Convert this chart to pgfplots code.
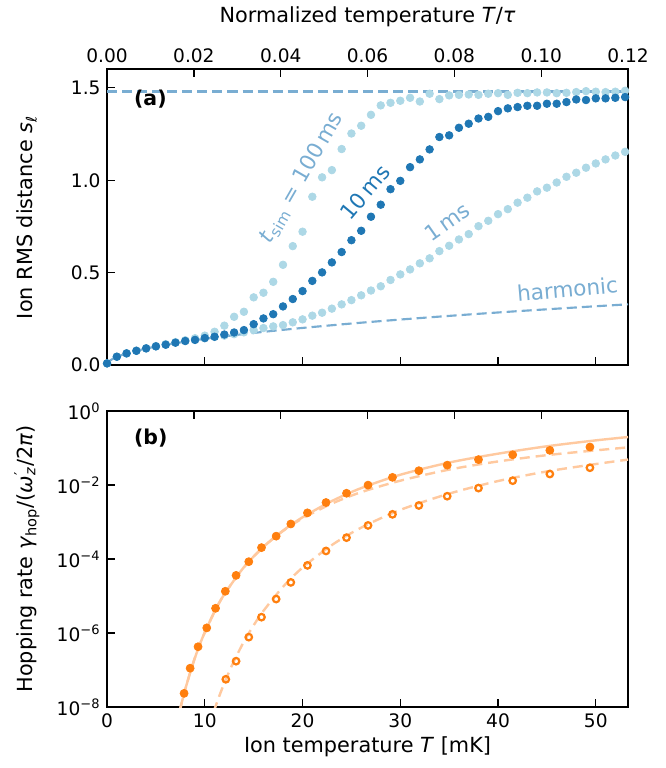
\documentclass[border=0pt]{standalone}
\usepackage{fontspec}
\setmainfont{DejaVu Sans}
\usepackage{pgfplots}
\usepackage{pgfplotstable}
\pgfplotsset{compat=1.18}

\definecolor{darkblue}{HTML}{1F77B4}
\definecolor{paleblue}{HTML}{ADD8E6}
\definecolor{midblue}{HTML}{79ADD2}
\definecolor{taborange}{HTML}{FF7F0E}
\definecolor{paleorange}{HTML}{FFC99F}

% RMS distance vs temperature for three simulation times
\pgfplotstableread{
T   s10   s100  s1
0   0.010 0.010 0.010
1   0.046 0.046 0.046
2   0.064 0.065 0.064
3   0.078 0.079 0.078
4   0.091 0.092 0.091
5   0.102 0.104 0.102
6   0.111 0.114 0.111
7   0.122 0.125 0.122
8   0.131 0.135 0.131
9   0.137 0.146 0.137
10  0.147 0.160 0.146
11  0.154 0.181 0.153
12  0.166 0.214 0.160
13  0.177 0.262 0.168
14  0.190 0.289 0.178
15  0.222 0.367 0.190
16  0.253 0.392 0.201
17  0.276 0.451 0.210
18  0.318 0.543 0.217
19  0.358 0.644 0.232
20  0.401 0.722 0.248
21  0.456 0.911 0.268
22  0.502 1.016 0.284
23  0.556 1.055 0.306
24  0.612 1.169 0.329
25  0.676 1.253 0.352
26  0.727 1.295 0.378
27  0.803 1.354 0.404
28  0.868 1.405 0.427
29  0.952 1.419 0.461
30  0.997 1.430 0.491
31  1.071 1.446 0.518
32  1.113 1.426 0.551
33  1.167 1.468 0.578
34  1.234 1.439 0.617
35  1.243 1.459 0.646
36  1.284 1.462 0.680
37  1.306 1.464 0.709
38  1.334 1.462 0.752
39  1.343 1.468 0.781
40  1.374 1.471 0.817
41  1.389 1.462 0.844
42  1.396 1.473 0.879
43  1.403 1.471 0.906
44  1.403 1.475 0.940
45  1.414 1.475 0.960
46  1.414 1.471 0.988
47  1.423 1.473 1.019
48  1.437 1.477 1.041
49  1.434 1.482 1.068
50  1.443 1.479 1.091
51  1.443 1.477 1.113
52  1.446 1.479 1.134
53  1.450 1.484 1.154
}\rmsdata

% harmonic prediction
\pgfplotstableread{
T     s
0     0.0000
0.1   0.0143
0.25  0.0226
0.5   0.0319
1     0.0451
2     0.0638
4     0.0902
6     0.1105
9     0.1353
12    0.1562
16    0.1804
20    0.2017
25    0.2255
30    0.2470
36    0.2706
42    0.2923
49    0.3157
53.3  0.3293
}\harmonic

% hopping rates, log10 values
\pgfplotstableread{
T     lg
7.88  -7.63
8.50  -6.95
9.31  -6.37
10.2  -5.86
11.1  -5.33
12.1  -4.87
13.2  -4.44
14.5  -4.07
15.8  -3.69
17.3  -3.38
18.8  -3.05
20.5  -2.75
22.4  -2.47
24.5  -2.22
26.7  -2.00
29.2  -1.79
31.9  -1.61
34.8  -1.46
38.0  -1.31
41.5  -1.18
45.3  -1.06
49.4  -0.97
}\hopfilled

\pgfplotstableread{
T     lg
12.15 -7.25
13.2  -6.76
14.5  -6.11
15.8  -5.57
17.3  -5.08
18.8  -4.63
20.5  -4.17
22.4  -3.78
24.5  -3.42
26.7  -3.09
29.2  -2.79
31.9  -2.55
34.8  -2.30
38.0  -2.08
41.5  -1.88
45.3  -1.70
49.4  -1.53
}\hopopen

\pgfplotstableread{
T     lg
7.4   -8.14
7.7   -7.82
8.0   -7.52
8.5   -7.07
9.0   -6.66
9.5   -6.30
10    -5.98
11    -5.42
12    -4.95
14    -4.22
16    -3.67
18    -3.23
20    -2.87
23    -2.43
26    -2.08
30    -1.72
35    -1.39
40    -1.15
45    -0.95
50    -0.79
53.3  -0.70
}\fitsolid

\pgfplotstableread{
T     lg
7.4   -8.14
7.7   -7.82
8.0   -7.52
8.5   -7.07
9.0   -6.66
9.5   -6.30
10    -5.98
11    -5.42
12    -4.95
14    -4.22
16    -3.67
18    -3.24
20    -2.90
23    -2.50
26    -2.19
30    -1.88
35    -1.58
40    -1.36
45    -1.19
50    -1.06
53.3  -0.98
}\fitupper

\pgfplotstableread{
T     lg
10.9  -8.13
11.5  -7.69
12.0  -7.35
12.5  -7.04
13    -6.75
14    -6.23
15    -5.79
16    -5.40
18    -4.75
20    -4.23
23    -3.62
26    -3.15
30    -2.67
35    -2.23
40    -1.89
45    -1.63
50    -1.43
53.3  -1.31
}\fitlower

\newcommand\labelsize{\fontsize{11.2}{13.5}\selectfont}

\tikzset{
  labfont/.style={font=\fontsize{11.6}{13}\selectfont},
  bluedash/.style={midblue, line width=1.15pt, dash pattern=on 5.4pt off 2.7pt},
  orangedash/.style={paleorange, line width=1.3pt, dash pattern=on 5.4pt off 3.2pt},
}

\pgfplotsset{
  panel/.style={
    width=280.3pt, height=159.2pt, scale only axis,
    xmin=0, xmax=53.3,
    tick align=inside, xtick pos=bottom, ytick pos=left,
    major tick length=4.3pt,
    axis line style={line width=0.9pt},
    tick style={line width=0.7pt, black},
    tick label style={font=\fontsize{10}{12}\selectfont},
    /pgf/number format/assume math mode=true,
    every axis y label/.style={at={(axis description cs:-0.154,0.5)}, rotate=90, anchor=center, font=\labelsize},
  },
  toptemp/.style={
    width=280.3pt, height=159.2pt, scale only axis,
    xmin=0, xmax=0.12, ymin=0, ymax=1,
    axis x line*=top, hide y axis,
    axis line style={-, line width=0.9pt},
    tick align=inside, major tick length=4.3pt,
    tick style={line width=0.7pt, black},
    xtick={0,0.02,0.04,0.06,0.08,0.10,0.12},
    tick label style={font=\fontsize{10}{12}\selectfont},
    xticklabel style={/pgf/number format/.cd, fixed, fixed zerofill, precision=2, assume math mode=true},
  },
}

\begin{document}
\begin{tikzpicture}
% overall page extent
\path (-57.6pt,-32.8pt) rectangle (300.7pt,380.4pt);

% ---------- panel (a) ----------
\begin{axis}[panel, at={(0,183.9pt)}, anchor=south west,
  ymin=0, ymax=1.6, ytick={0,0.5,1.0,1.5},
  yticklabel style={/pgf/number format/.cd, fixed, fixed zerofill, precision=1},
  xtick={0,10,20,30,40,50}, xticklabels={},
  ylabel={Ion RMS distance \textit{s}\textsubscript{ℓ}}]
  \addplot[bluedash] coordinates {(0,1.48) (53.3,1.48)};
  \addplot[bluedash, smooth] table[x=T, y=s] {\harmonic};
  \addplot[only marks, mark=*, mark size=2.05pt, color=paleblue] table[x=T, y=s100] {\rmsdata};
  \addplot[only marks, mark=*, mark size=2.05pt, color=paleblue] table[x=T, y=s1] {\rmsdata};
  \addplot[only marks, mark=*, mark size=2.05pt, color=darkblue] table[x=T, y=s10] {\rmsdata};
  \node[anchor=west, font=\fontsize{11}{13}\selectfont\bfseries] at (axis cs:2.1,1.44) {(a)};
  \node[labfont, rotate=60, text=midblue] at (axis cs:19.9,1.012) {\textit{t}\textsubscript{sim} = 100\,ms};
  \node[labfont, rotate=50, text=darkblue] at (axis cs:26.4,0.935) {10\,ms};
  \node[labfont, rotate=35, text=midblue] at (axis cs:34.8,0.773) {1\,ms};
  \node[labfont, rotate=5, text=midblue] at (axis cs:47.1,0.412) {harmonic};
\end{axis}
\begin{axis}[toptemp, at={(0,183.9pt)}, anchor=south west,
  xlabel={Normalized temperature \textit{T}/\textit{τ}},
  every axis x label/.style={at={(axis description cs:0.5,1.176)}, anchor=center, font=\labelsize}]
\end{axis}

% ---------- panel (b) ----------
\begin{axis}[panel, at={(0,0)}, anchor=south west,
  ymode=log, ymin=1e-8, ymax=1, yminorticks=false,
  ytick={1e-8,1e-6,1e-4,1e-2,1},
  yticklabels={10\textsuperscript{−8},10\textsuperscript{−6},10\textsuperscript{−4},10\textsuperscript{−2},10\textsuperscript{0}},
  xtick={0,10,20,30,40,50},
  xlabel={Ion temperature \textit{T} [mK]},
  every axis x label/.style={at={(axis description cs:0.5,-0.135)}, anchor=center, font=\labelsize},
  ylabel={Hopping rate \textit{γ}\textsubscript{hop}/(\textit{ω}\rlap{\textsuperscript{′}}\textsubscript{\textit{z}}/2\textit{π})}]
  \addplot[orangedash, smooth] table[x=T, y expr=10^(\thisrow{lg})] {\fitupper};
  \addplot[orangedash, smooth] table[x=T, y expr=10^(\thisrow{lg})] {\fitlower};
  \addplot[paleorange, line width=1.3pt, smooth] table[x=T, y expr=10^(\thisrow{lg})] {\fitsolid};
  \addplot[only marks, mark=*, mark size=2.15pt, color=taborange] table[x=T, y expr=10^(\thisrow{lg})] {\hopfilled};
  \addplot[only marks, mark=o, mark size=1.75pt, color=taborange, mark options={line width=1.2pt, fill=white}] table[x=T, y expr=10^(\thisrow{lg})] {\hopopen};
  \node[anchor=west, font=\fontsize{11}{13}\selectfont\bfseries] at (axis cs:2.1,0.186) {(b)};
\end{axis}
\begin{axis}[toptemp, at={(0,0)}, anchor=south west, xticklabels={}]
\end{axis}
\end{tikzpicture}
\end{document}
